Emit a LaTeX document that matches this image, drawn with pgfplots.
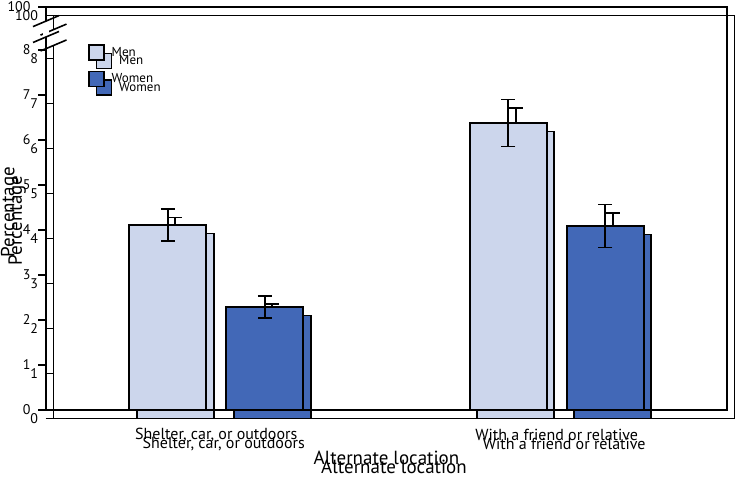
\documentclass[border=0pt]{standalone}
\usepackage{pgfplots}
\pgfplotsset{compat=1.18}
\usepackage{pgfplotstable}
\usepackage{fontspec}
\setmainfont{PT Sans}

\definecolor{menc}{RGB}{204,214,236}
\definecolor{womenc}{RGB}{66,104,183}

% percentages with half-width of the error bars
\pgfplotstableread{
x val err
1 4.11 0.36
2 6.38 0.52
}\men
\pgfplotstableread{
x val err
1 2.29 0.25
2 4.09 0.48
}\women

\pgfplotsset{
  chart/.style={
    scale only axis, width=681pt, height=403pt,
    anchor=south west,
    xmin=0.5, xmax=2.5, ymin=0, ymax=8.956,
    ybar=20pt, bar width=77pt,
    axis line style={line width=1.8pt},
    ytick={0,1,...,8,8.956}, yticklabels={0,1,2,3,4,5,6,7,8,100},
    ytick align=outside, ytick pos=left, major tick length=8pt,
    y tick style={line width=1.6pt, black},
    xtick={1,2}, xticklabels={{Shelter, car, or outdoors},{With a friend or relative}},
    x tick style={draw=none},
    /pgf/number format/assume math mode=true,
    yticklabel style={anchor=east, xshift=-4pt, font=\fontsize{14}{16}\selectfont},
    xticklabel style={anchor=center, yshift=-17pt, font=\fontsize{16}{18}\selectfont},
    ylabel={Percentage}, xlabel={Alternate location},
    label style={font=\fontsize{19}{21}\selectfont},
    ylabel style={at={(axis description cs:-0.0535,0.491)}, anchor=center},
    xlabel style={at={(axis description cs:0.5,0)}, anchor=center, yshift=-48pt},
    legend style={draw=none, fill=none, at={(axis description cs:0.0617,0.908)},
      anchor=north west, inner sep=0pt, row sep=10pt, column sep=5pt,
      font=\fontsize{13}{15}\selectfont},
    legend cell align=left,
    after end axis/.code={
      \fill[white] ([xshift=-3pt]rel axis cs:0,0.9256) rectangle ([xshift=3pt]rel axis cs:0,0.965);
      \draw[line width=1.6pt] ([xshift=-13pt,yshift=-5.5pt]rel axis cs:0,0.965) -- ([xshift=13pt,yshift=5.5pt]rel axis cs:0,0.965);
      \draw[line width=1.6pt] ([xshift=-13pt,yshift=-5.5pt]rel axis cs:0,0.9256) -- ([xshift=13pt,yshift=5.5pt]rel axis cs:0,0.9256);
    },
  },
  sq/.style={legend image code/.code={
    \draw[##1, draw=black, line width=1.5pt] (0pt,-7.5pt) rectangle (15pt,7.5pt);}},
  bars/.style={draw=black, line width=1.6pt,
    error bars/.cd, y dir=both, y explicit,
    error bar style={line width=1.6pt, black},
    error mark options={rotate=90, line width=1.6pt, mark size=7pt, black}},
}

\newcommand{\chart}[2]{%
\begin{axis}[chart, at={(#1,#2)}]
\addplot[fill=menc, sq, bars] table[x=x, y=val, y error=err] {\men};
\addplot[fill=womenc, sq, bars] table[x=x, y=val, y error=err] {\women};
\legend{Men,Women}
\end{axis}}

\begin{document}
\begin{tikzpicture}
\path[use as bounding box] (0,0) rectangle (750pt,488pt);
\chart{53.5pt}{69.5pt}
\chart{46pt}{78pt}
\end{tikzpicture}
\end{document}
